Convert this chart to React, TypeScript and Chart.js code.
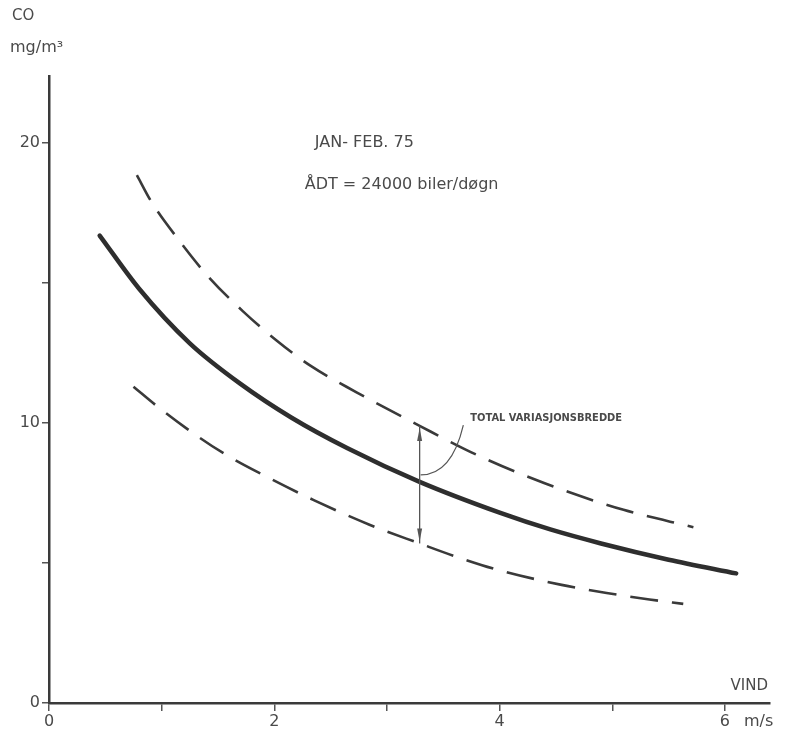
import { useEffect, useRef } from "react";
import { Chart, registerables } from "chart.js";

Chart.register(...registerables);

// Mean CO concentration against wind speed
const windMean = [0.45, 0.8, 1.25, 1.7, 2.15, 2.65, 3.29, 4.0, 4.45, 4.9, 5.5, 6.1];
const coMean = [16.7, 14.8, 12.85, 11.4, 10.2, 9.1, 7.9, 6.8, 6.2, 5.7, 5.12, 4.63];

// Upper limit of the observed spread
const windUpper = [0.78, 0.91, 1.15, 1.41, 1.72, 2.02, 2.32, 2.73, 3.29, 3.8, 4.4, 5.1, 5.72];
const coUpper = [18.86, 17.9, 16.55, 15.25, 14.0, 12.95, 12.05, 11.1, 9.9, 8.86, 7.85, 6.9, 6.28];

// Lower limit of the observed spread
const windLower = [0.75, 0.96, 1.22, 1.55, 1.9, 2.35, 2.85, 3.29, 3.62, 4.0, 4.55, 4.95, 5.33, 5.63];
const coLower = [11.3, 10.6, 9.81, 8.92, 8.15, 7.25, 6.36, 5.7, 5.22, 4.74, 4.22, 3.93, 3.7, 3.54];

// Labelled ticks
const xTickLabels = [0, 2, 4, 6];
const yTickLabels = [0, 10, 20];

// Wind speed where the spread is marked with a double arrow
const spreadWind = 3.29;

const INK = "#3a3a3a";
const TEXT = "#4a4a4a";
const FONT = "'DejaVu Sans', 'Liberation Sans', sans-serif";

const toPoints = (xs: number[], ys: number[]) => xs.map((x, i) => ({ x, y: ys[i] }));

const annotations = {
  id: "annotations",
  afterDatasetsDraw(chart: any) {
    const { ctx, scales, chartArea } = chart;
    const sx = scales.x;
    const sy = scales.y;

    // Double arrow across the total spread
    const ax = sx.getPixelForValue(spreadWind);
    const top = sy.getPixelForValue(coUpper[windUpper.indexOf(spreadWind)]);
    const bottom = sy.getPixelForValue(coLower[windLower.indexOf(spreadWind)]);
    const mid = sy.getPixelForValue(coMean[windMean.indexOf(spreadWind)]);
    ctx.save();
    ctx.strokeStyle = "#555";
    ctx.fillStyle = "#555";
    ctx.lineWidth = 1.3;
    ctx.beginPath();
    ctx.moveTo(ax, top);
    ctx.lineTo(ax, bottom);
    ctx.stroke();
    const head = (tipY: number, dir: number) => {
      ctx.beginPath();
      ctx.moveTo(ax, tipY);
      ctx.lineTo(ax - 2.5, tipY + dir * 13);
      ctx.lineTo(ax + 2.5, tipY + dir * 13);
      ctx.closePath();
      ctx.fill();
    };
    head(top + 2, 1);
    head(bottom - 2, -1);

    // Leader from the arrow to its label
    const lx = sx.getPixelForValue(3.74);
    const ly = sy.getPixelForValue(10.18);
    ctx.lineWidth = 1.2;
    ctx.beginPath();
    ctx.moveTo(ax + 1, mid - 7);
    ctx.quadraticCurveTo(ax + 32, mid - 7, lx - 7, ly + 7);
    ctx.stroke();

    ctx.fillStyle = TEXT;
    ctx.textBaseline = "middle";
    ctx.textAlign = "left";
    ctx.font = `bold 11px 'DejaVu Sans Condensed', ${FONT}`;
    ctx.fillText("TOTAL VARIASJONSBREDDE", lx, ly, 178);

    // Period and traffic volume
    ctx.font = `16px ${FONT}`;
    ctx.fillText("JAN- FEB. 75", sx.getPixelForValue(2.36), sy.getPixelForValue(20.0), 120);
    ctx.fillText("ÅDT = 24000 biler/døgn", sx.getPixelForValue(2.27), sy.getPixelForValue(18.5), 215);

    // Axis titles
    ctx.font = `15px ${FONT}`;
    ctx.fillText("CO", chartArea.left - 37, 16);
    ctx.font = `16px ${FONT}`;
    ctx.fillText("mg/m³", chartArea.left - 39, 48, 62);
    ctx.font = `15px ${FONT}`;
    ctx.textAlign = "right";
    ctx.fillText("VIND", chartArea.right - 2, chartArea.bottom - 17);
    ctx.textAlign = "left";
    ctx.font = `16px ${FONT}`;
    ctx.fillText("m/s", sx.getPixelForValue(6) + 19, chartArea.bottom + 19);
    ctx.restore();
  },
};

export default function App() {
  const canvasRef = useRef<HTMLCanvasElement | null>(null);

  useEffect(() => {
    const canvas = canvasRef.current;
    if (!canvas) return;
    const tickFont = { family: FONT, size: 16 };
    const chart = new Chart(canvas, {
      type: "line",
      data: {
        datasets: [
          {
            data: toPoints(windMean, coMean),
            borderColor: "#2e2e2e",
            borderWidth: 4.5,
            cubicInterpolationMode: "monotone",
            pointRadius: 0,
            borderCapStyle: "round",
          },
          {
            data: toPoints(windUpper, coUpper),
            borderColor: INK,
            borderWidth: 2.6,
            borderDash: [28, 14],
            cubicInterpolationMode: "monotone",
            pointRadius: 0,
          },
          {
            data: toPoints(windLower, coLower),
            borderColor: INK,
            borderWidth: 2.6,
            borderDash: [28, 14],
            cubicInterpolationMode: "monotone",
            pointRadius: 0,
          },
        ],
      },
      options: {
        responsive: false,
        animation: false,
        devicePixelRatio: 1,
        layout: { padding: { left: 0, right: 17, top: 76, bottom: 0 } },
        plugins: { legend: { display: false }, tooltip: { enabled: false } },
        scales: {
          x: {
            type: "linear",
            min: 0,
            max: 6.4,
            afterFit: (s: any) => {
              s.height = 30;
            },
            ticks: {
              stepSize: 1,
              includeBounds: false,
              autoSkip: false,
              maxRotation: 0,
              padding: 1,
              color: TEXT,
              font: tickFont,
              callback: (v: any) => (xTickLabels.includes(Number(v)) ? String(v) : ""),
            },
            grid: { drawOnChartArea: false, tickLength: 8, color: "#555", lineWidth: 1.5 },
            border: { color: INK, width: 2.5 },
          },
          y: {
            min: 0,
            max: 22.4,
            afterFit: (s: any) => {
              s.width = 49;
            },
            ticks: {
              stepSize: 5,
              includeBounds: false,
              padding: 2,
              color: TEXT,
              font: tickFont,
              callback: (v: any) => (yTickLabels.includes(Number(v)) ? String(v) : ""),
            },
            grid: { drawOnChartArea: false, tickLength: 7, color: "#555", lineWidth: 1.5 },
            border: { color: INK, width: 2.5 },
          },
        },
      } as any,
      plugins: [annotations],
    });
    return () => chart.destroy();
  }, []);

  return (
    <div style={{ position: "absolute", left: 0, top: 0, width: 787, height: 733, background: "#fff" }}>
      <canvas ref={canvasRef} width={787} height={733} style={{ display: "block" }} />
    </div>
  );
}
